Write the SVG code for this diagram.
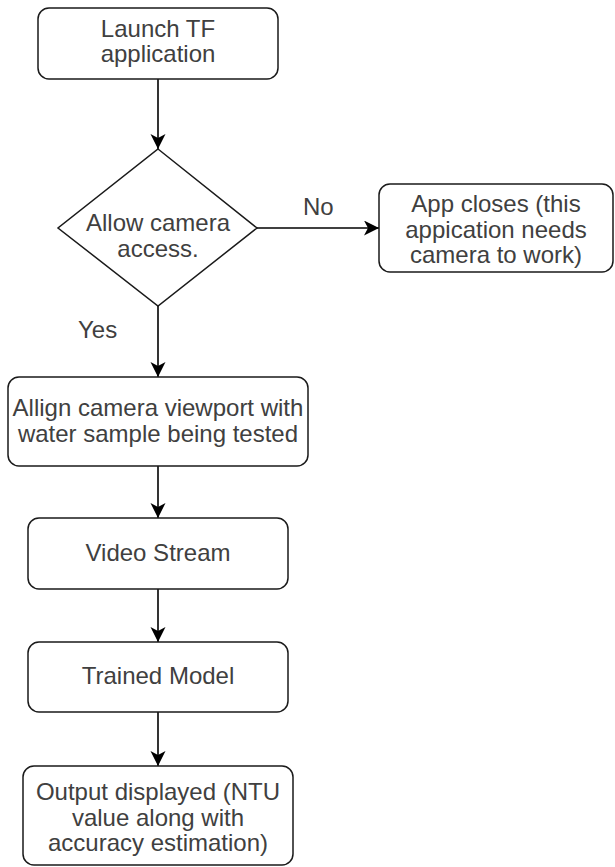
<svg xmlns="http://www.w3.org/2000/svg" width="615" height="867" viewBox="0 0 615 867">
  <style>
    .box { fill: #ffffff; stroke: #1a1a1a; stroke-width: 1.5; }
    .lbl { font-family: "Liberation Sans", Arial, sans-serif; font-size: 24px; fill: #404040; text-anchor: middle; }
    .edge-lbl { font-family: "Liberation Sans", Arial, sans-serif; font-size: 24px; fill: #404040; }
    .edge { fill: none; stroke: #000000; stroke-width: 1.6; }
  </style>
  <defs>
    <marker id="arrow" markerUnits="userSpaceOnUse" markerWidth="18" markerHeight="16" refX="15" refY="7.5" orient="auto">
      <path d="M0,0 L15,7.5 L0,15 L4,7.5 Z" fill="#000000"/>
    </marker>
  </defs>
  <rect width="615" height="867" fill="#ffffff"/>

  <g id="connectors">
    <path class="edge" d="M158,79 L158,149" marker-end="url(#arrow)"/>
    <path class="edge" d="M257,228 L379,228" marker-end="url(#arrow)"/>
    <path class="edge" d="M158,306 L158,377" marker-end="url(#arrow)"/>
    <path class="edge" d="M158,466 L158,518" marker-end="url(#arrow)"/>
    <path class="edge" d="M158,589 L158,642" marker-end="url(#arrow)"/>
    <path class="edge" d="M158,712 L158,766" marker-end="url(#arrow)"/>
    <text class="edge-lbl" x="303" y="215">No</text>
    <text class="edge-lbl" x="78" y="338">Yes</text>
  </g>

  <g id="launch">
    <rect class="box" x="38" y="8" width="240" height="71" rx="11"/>
    <text class="lbl" x="158" y="37">Launch TF</text>
    <text class="lbl" x="158" y="62">application</text>
  </g>

  <g id="camera-access">
    <path class="box" d="M158,149 L257,228 L158,306 L58,228 Z"/>
    <text class="lbl" x="158" y="231">Allow camera</text>
    <text class="lbl" x="158" y="257">access.</text>
  </g>

  <g id="app-closes">
    <rect class="box" x="379" y="184" width="234" height="88" rx="11"/>
    <text class="lbl" x="496" y="212">App closes (this</text>
    <text class="lbl" x="496" y="238">appication needs</text>
    <text class="lbl" x="496" y="263">camera to work)</text>
  </g>

  <g id="align-viewport">
    <rect class="box" x="8" y="377" width="300" height="89" rx="11"/>
    <text class="lbl" x="158" y="416">Allign camera viewport with</text>
    <text class="lbl" x="158" y="442">water sample being tested</text>
  </g>

  <g id="video-stream">
    <rect class="box" x="28" y="518" width="260" height="71" rx="11"/>
    <text class="lbl" x="158" y="561">Video Stream</text>
  </g>

  <g id="trained-model">
    <rect class="box" x="28" y="642" width="260" height="70" rx="11"/>
    <text class="lbl" x="158" y="684">Trained Model</text>
  </g>

  <g id="output">
    <rect class="box" x="23" y="766" width="270" height="99" rx="11"/>
    <text class="lbl" x="158" y="800">Output displayed (NTU</text>
    <text class="lbl" x="158" y="826">value along with</text>
    <text class="lbl" x="158" y="851">accuracy estimation)</text>
  </g>
</svg>
